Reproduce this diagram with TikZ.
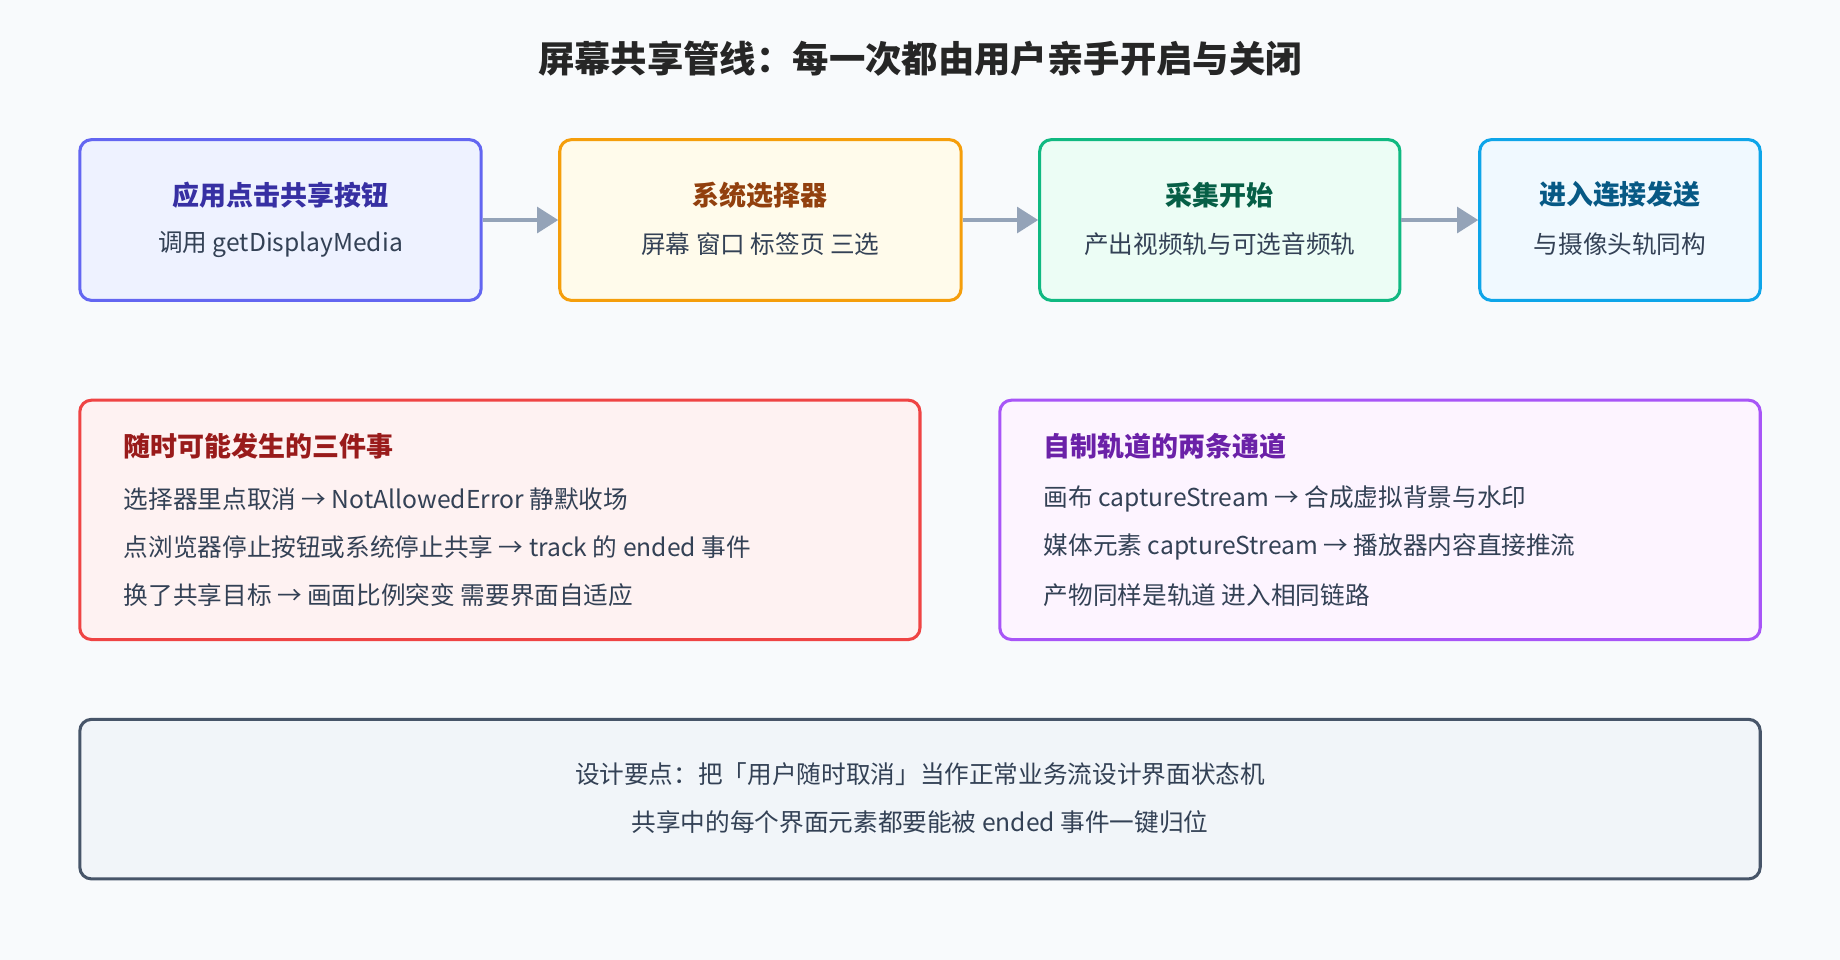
\documentclass[tikz,border=0pt]{standalone}
\usepackage{fontspec}
\setmainfont{Noto Sans CJK SC}
\usetikzlibrary{arrows.meta}
\definecolor{bg}{HTML}{F8FAFC}
\definecolor{txt}{HTML}{334155}
\definecolor{arr}{HTML}{94A3B8}
\definecolor{b1}{HTML}{6366F1}\definecolor{f1}{HTML}{EEF2FF}\definecolor{t1}{HTML}{3730A3}
\definecolor{b2}{HTML}{F59E0B}\definecolor{f2}{HTML}{FFFBEB}\definecolor{t2}{HTML}{92400E}
\definecolor{b3}{HTML}{10B981}\definecolor{f3}{HTML}{ECFDF5}\definecolor{t3}{HTML}{065F46}
\definecolor{b4}{HTML}{0EA5E9}\definecolor{f4}{HTML}{F0F9FF}\definecolor{t4}{HTML}{075985}
\definecolor{b5}{HTML}{EF4444}\definecolor{f5}{HTML}{FEF2F2}\definecolor{t5}{HTML}{991B1B}
\definecolor{b6}{HTML}{A855F7}\definecolor{f6}{HTML}{FDF4FF}\definecolor{t6}{HTML}{6B21A8}
\definecolor{b7}{HTML}{475569}\definecolor{f7}{HTML}{F1F5F9}
\tikzset{
 box/.style={draw=#1,line width=2.6pt,rounded corners=10pt,inner sep=0pt},
 ttl/.style={font=\fontsize{23}{28}\selectfont\bfseries,text=#1},
 sub/.style={font=\fontsize{21}{26}\selectfont,text=txt},
 ln/.style={font=\fontsize{21}{26}\selectfont,text=txt,anchor=west},
 conn/.style={draw=arr,line width=3pt,-{Triangle[length=18pt,width=22pt]}},
}
\begin{document}
\begin{tikzpicture}[x=1pt,y=-1pt]
\fill[bg] (0,0) rectangle (1568,818);
\useasboundingbox (0,0) rectangle (1568,818);
\node[font=\fontsize{31}{36}\selectfont\bfseries,text=black!85] (title) at (784,50) {屏幕共享管线：每一次都由用户亲手开启与关闭};
\node[box=b1,fill=f1,minimum width=342pt,minimum height=137pt] (n1) at (239,187.5) {};
\node[box=b2,fill=f2,minimum width=342pt,minimum height=137pt] (n2) at (648,187.5) {};
\node[box=b3,fill=f3,minimum width=307pt,minimum height=137pt] (n3) at (1039.5,187.5) {};
\node[box=b4,fill=f4,minimum width=239pt,minimum height=137pt] (n4) at (1380.5,187.5) {};
\node[ttl=t1] (n1t) at (239,166) {应用点击共享按钮};
\node[sub] (n1s) at (239,208) {调用 getDisplayMedia};
\node[ttl=t2] (n2t) at (648,166) {系统选择器};
\node[sub] (n2s) at (648,208) {屏幕 窗口 标签页 三选};
\node[ttl=t3] (n3t) at (1039.5,166) {采集开始};
\node[sub] (n3s) at (1039.5,208) {产出视频轨与可选音频轨};
\node[ttl=t4] (n4t) at (1380.5,166) {进入连接发送};
\node[sub] (n4s) at (1380.5,208) {与摄像头轨同构};
\draw[conn] (n1.east) -- (n2.west);
\draw[conn] (n2.east) -- (n3.west);
\draw[conn] (n3.east) -- (n4.west);
\node[box=b5,fill=f5,minimum width=716pt,minimum height=204pt] (n5) at (426,443) {};
\node[ttl=t5,anchor=west] (n5t) at (102,380) {随时可能发生的三件事};
\node[ln] (n5a) at (102,425) {选择器里点取消 → NotAllowedError 静默收场};
\node[ln] (n5b) at (102,466) {点浏览器停止按钮或系统停止共享 → track 的 ended 事件};
\node[ln] (n5c) at (102,507) {换了共享目标 → 画面比例突变 需要界面自适应};
\node[box=b6,fill=f6,minimum width=648pt,minimum height=204pt] (n6) at (1176,443) {};
\node[ttl=t6,anchor=west] (n6t) at (886,380) {自制轨道的两条通道};
\node[ln] (n6a) at (886,425) {画布 captureStream → 合成虚拟背景与水印};
\node[ln] (n6b) at (886,466) {媒体元素 captureStream → 播放器内容直接推流};
\node[ln] (n6c) at (886,507) {产物同样是轨道 进入相同链路};
\node[box=b7,fill=f7,minimum width=1432pt,minimum height=136pt] (n7) at (784,681) {};
\node[sub] (n7a) at (784,660) {设计要点：把「用户随时取消」当作正常业务流设计界面状态机};
\node[sub] (n7b) at (784,701) {共享中的每个界面元素都要能被 ended 事件一键归位};
\end{tikzpicture}
\end{document}
